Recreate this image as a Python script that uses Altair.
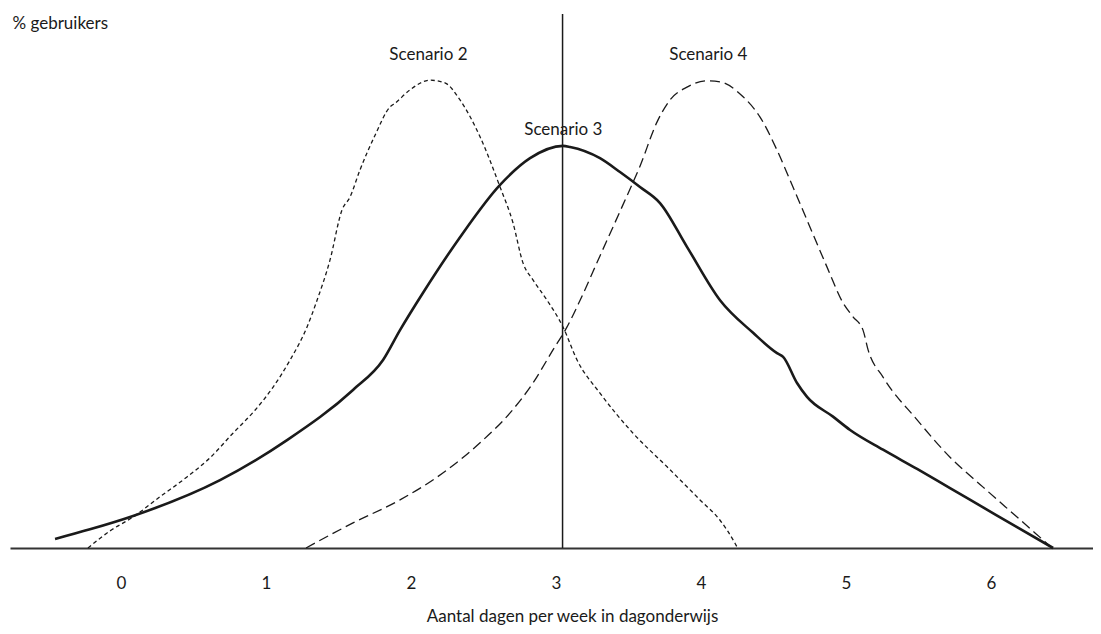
import altair as alt
import pandas as pd

# --- data (x = dagen per week, y = % gebruikers, arbitrary 0-100 scale) ---
s2_x = [-0.228, -0.076, 0.083, 0.269, 0.455, 0.614, 0.772, 0.924, 1.048, 1.166, 1.283, 1.352,
        1.441, 1.524, 1.579, 1.648, 1.752, 1.855, 1.890, 1.993, 2.131, 2.234, 2.338, 2.476,
        2.614, 2.703, 2.772, 2.841, 2.938, 3.048, 3.145, 3.303, 3.531, 3.766, 3.993, 4.131,
        4.234, 4.248]
s2_y = [0.0, 3.2, 5.8, 9.6, 13.3, 16.9, 21.5, 25.8, 30.1, 35.2, 41.4, 46.4,
        53.9, 63.3, 65.7, 70.8, 77.3, 82.6, 83.3, 85.8, 87.6, 87.1, 83.9, 77.0,
        67.6, 60.9, 53.4, 50.2, 46.4, 41.4, 35.2, 29.0, 21.5, 15.2, 9.0, 5.2,
        0.9, 0.2]

s3_x = [-0.455, -0.214, 0.083, 0.683, 1.145, 1.600, 1.807, 1.924, 2.083, 2.338, 2.614,
        2.821, 3.048, 3.097, 3.303, 3.441, 3.579, 3.717, 3.903, 4.131, 4.359, 4.524, 4.566,
        4.662, 4.731, 4.910, 5.028, 5.255, 5.490, 5.717, 5.945, 6.179, 6.428]
s3_y = [1.7, 3.5, 6.0, 12.7, 20.2, 29.6, 35.2, 40.8, 47.8, 58.2, 68.0,
        73.0, 75.3, 75.1, 73.0, 70.4, 67.6, 64.6, 56.4, 46.4, 40.3, 36.5, 35.8,
        30.9, 28.3, 24.6, 22.1, 18.4, 14.8, 11.2, 7.6, 3.9, 0.0]

s4_x = [1.276, 1.600, 1.924, 2.248, 2.476, 2.683, 2.841, 2.979, 3.076, 3.166, 3.303, 3.462,
        3.579, 3.697, 3.786, 3.903, 4.041, 4.131, 4.290, 4.407, 4.524, 4.634, 4.731,
        4.869, 4.979, 5.048, 5.117, 5.152, 5.255, 5.490, 5.717, 5.945, 6.179, 6.421]
s4_y = [0.0, 4.7, 9.0, 14.6, 19.7, 25.3, 30.9, 37.1, 41.4, 46.4, 54.7, 64.3,
        71.5, 79.8, 83.9, 86.3, 87.5, 87.3, 84.5, 80.7, 74.5, 67.6, 61.4,
        52.6, 45.9, 43.3, 40.8, 37.1, 32.0, 24.0, 17.0, 11.4, 5.8, 0.0]

label_text = ["Scenario 2", "Scenario 3", "Scenario 4"]
label_x = [2.12, 3.05, 4.05]
label_y = [91.4, 77.3, 91.4]

x_ticks = [0, 1, 2, 3, 4, 5, 6]
x_line = 3.045
x_title = "Aantal dagen per week in dagonderwijs"
y_title = "% gebruikers"

FONT = "Lato"
INK = "#1a1a1a"

df = pd.concat([
    pd.DataFrame({"x": s2_x, "y": s2_y, "s": "Scenario 2"}),
    pd.DataFrame({"x": s3_x, "y": s3_y, "s": "Scenario 3"}),
    pd.DataFrame({"x": s4_x, "y": s4_y, "s": "Scenario 4"}),
])
labels = pd.DataFrame({"t": label_text, "x": label_x, "y": label_y})
vline = pd.DataFrame({"x": [x_line], "y": [0], "y2": [100]})

xs = alt.Scale(domain=[-0.7655, 6.703], nice=False, zero=False)
ys = alt.Scale(domain=[0, 100], nice=False, zero=True)

xenc = alt.X("x:Q", scale=xs, axis=alt.Axis(
    values=x_ticks, format="d", grid=False, ticks=False, tickSize=0,
    domainColor="#333333", domainWidth=2,
    labelFont=FONT, labelFontSize=17, labelColor=INK,
    labelBaseline="alphabetic", labelPadding=40, labelFlush=False,
    title=x_title, titleFont=FONT, titleFontSize=17, titleFontWeight="normal",
    titleColor=INK, titleX=562, titleY=73, titleAlign="center",
    titleBaseline="alphabetic"))
yenc = alt.Y("y:Q", scale=ys, axis=alt.Axis(
    domain=False, ticks=False, labels=False, grid=False,
    title=y_title, titleFont=FONT, titleFontSize=17, titleFontWeight="normal",
    titleColor=INK, titleAngle=0, titleX=2, titleY=14, titleAlign="left",
    titleBaseline="alphabetic"))

base = alt.Chart(df)

s2 = base.transform_filter(alt.datum.s == "Scenario 2").mark_line(
    color=INK, strokeWidth=1.3, strokeDash=[4, 3], interpolate="monotone"
).encode(x=xenc, y=yenc)

s3 = base.transform_filter(alt.datum.s == "Scenario 3").mark_line(
    color=INK, strokeWidth=2.6, interpolate="monotone"
).encode(x="x:Q", y="y:Q")

s4 = base.transform_filter(alt.datum.s == "Scenario 4").mark_line(
    color=INK, strokeWidth=1.3, strokeDash=[10, 5], interpolate="monotone"
).encode(x="x:Q", y="y:Q")

rule = alt.Chart(vline).mark_rule(color=INK, strokeWidth=1.5).encode(
    x="x:Q", y="y:Q", y2="y2:Q")

txt = alt.Chart(labels).mark_text(
    font=FONT, fontSize=17, color=INK, align="center", baseline="alphabetic"
).encode(x="x:Q", y="y:Q", text="t:N")

chart = alt.layer(s2, s3, s4, txt, rule).properties(
    width=1083, height=534,
    autosize=alt.AutoSizeParams(type="none"),
    padding={"left": 2, "top": 6, "right": 0, "bottom": 78},
).configure(background="white").configure_view(stroke="transparent", strokeWidth=0)

chart.save("out.html", embed_options={"renderer": "svg", "actions": False})
